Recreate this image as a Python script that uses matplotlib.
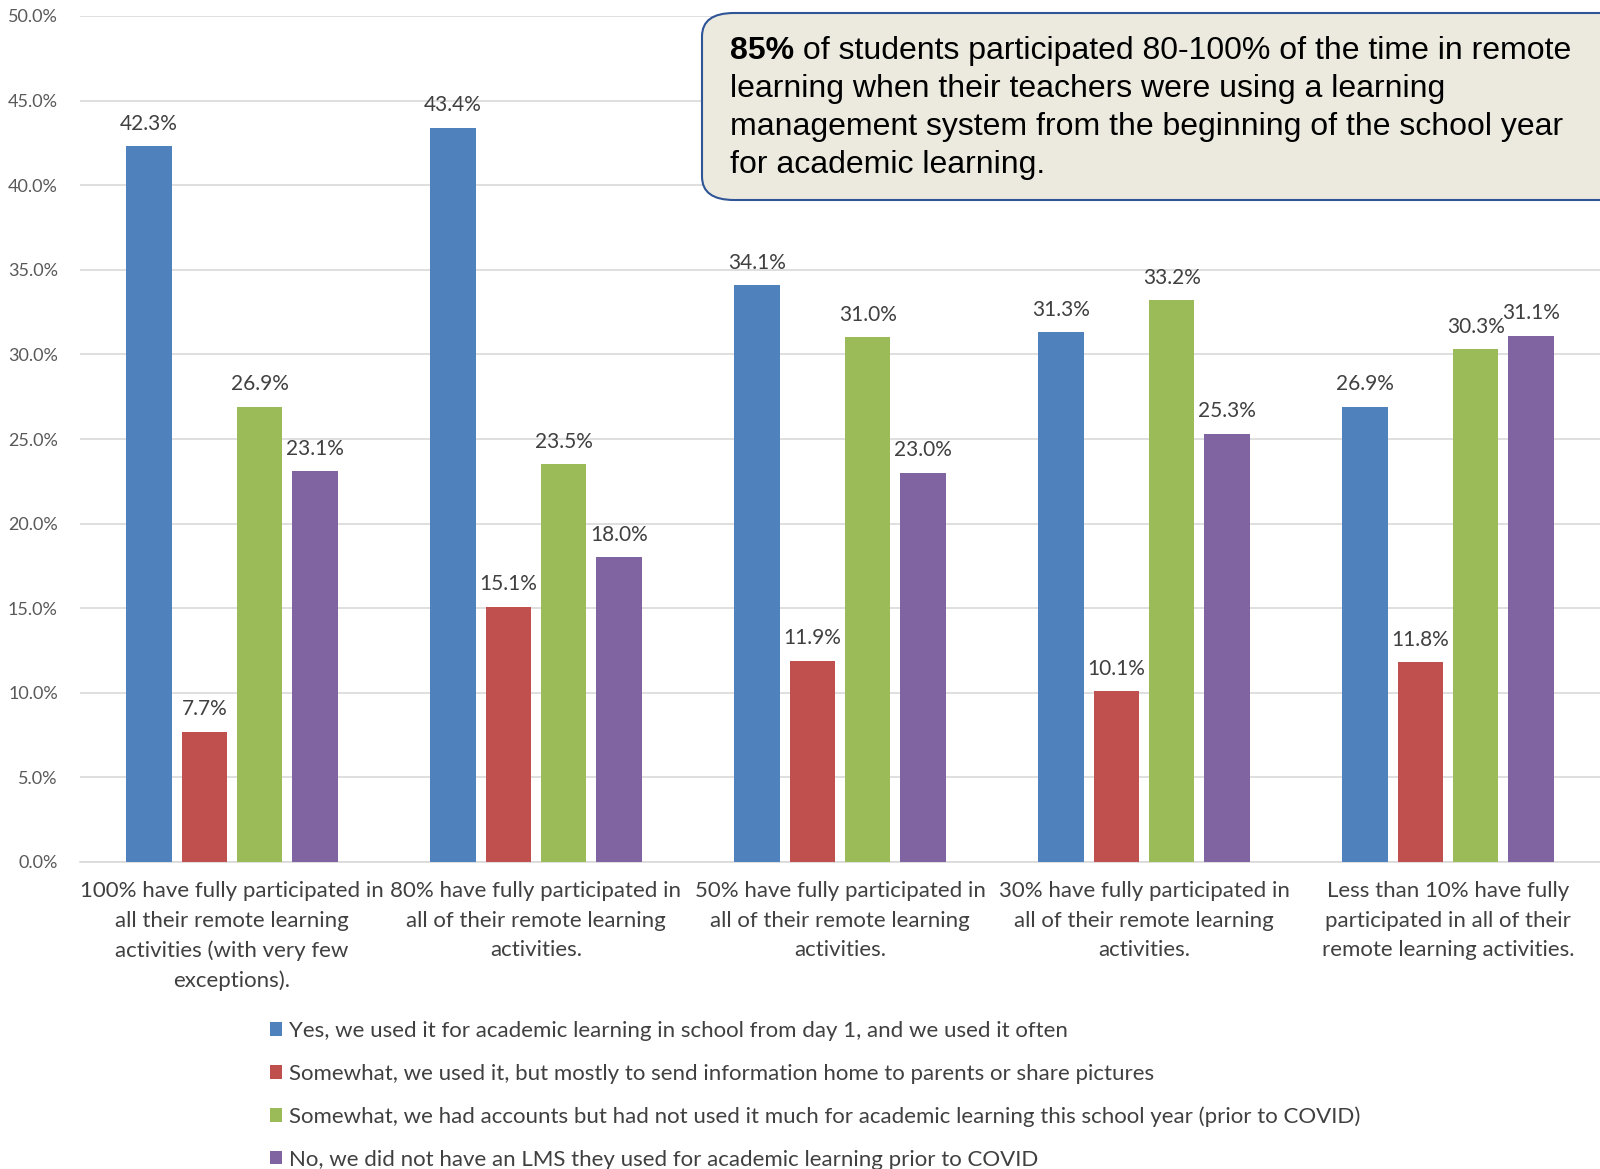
import matplotlib
matplotlib.use("Agg")
import matplotlib.pyplot as plt
from matplotlib.patches import FancyBboxPatch, Patch
import numpy as np

categories = [
    "100% have fully participated in\nall their remote learning\nactivities (with very few\nexceptions).",
    "80% have fully participated in\nall of their remote learning\nactivities.",
    "50% have fully participated in\nall of their remote learning\nactivities.",
    "30% have fully participated in\nall of their remote learning\nactivities.",
    "Less than 10% have fully\nparticipated in all of their\nremote learning activities.",
]
series_names = [
    "Yes, we used it for academic learning in school from day 1, and we used it often",
    "Somewhat, we used it, but mostly to send information home to parents or share pictures",
    "Somewhat, we had accounts but had not used it much for academic learning this school year (prior to COVID)",
    "No, we did not have an LMS they used for academic learning prior to COVID",
]
yes_often = [42.3, 43.4, 34.1, 31.3, 26.9]
somewhat_info = [7.7, 15.1, 11.9, 10.1, 11.8]
somewhat_accounts = [26.9, 23.5, 31.0, 33.2, 30.3]
no_lms = [23.1, 18.0, 23.0, 25.3, 31.1]
series = [yes_often, somewhat_info, somewhat_accounts, no_lms]
colors = ["#4F81BD", "#C0504D", "#9BBB59", "#8064A2"]
yticks = np.arange(0, 50.1, 5)

W, H = 1600, 1169
fig = plt.figure(figsize=(16, 11.69), dpi=100)
ax = fig.add_axes([80 / W, 1 - 862 / H, 1 - 80 / W, (862 - 16) / H])

font = "Lato"
x = np.arange(len(categories))
pitch = 0.182
bw = 0.150
offsets = (np.arange(4) - 1.5) * pitch
for i, (vals, c) in enumerate(zip(series, colors)):
    bars = ax.bar(x + offsets[i], vals, width=bw, color=c, label=series_names[i], zorder=3)
    for b, v in zip(bars, vals):
        ax.annotate(f"{v:.1f}%", (b.get_x() + b.get_width() / 2, v), xytext=(0, 9),
                    textcoords="offset points", ha="center", va="bottom",
                    fontsize=15, color="#404040", family=font)

ax.set_xlim(-0.5, 4.5)
ax.set_ylim(0, 50)
ax.set_yticks(yticks)
ax.set_yticklabels([f"{t:.1f}%" for t in yticks], fontsize=13, color="#595959", family=font)
ax.grid(axis="y", color="#D9D9D9", linewidth=1.2, zorder=0)
ax.set_xticks(x)
ax.set_xticklabels(categories, fontsize=16, color="#404040", family=font, linespacing=1.57)
ax.tick_params(axis="both", length=0)
ax.tick_params(axis="y", pad=16)
ax.tick_params(axis="x", pad=14)
for s in ["top", "right", "left"]:
    ax.spines[s].set_visible(False)
ax.spines["bottom"].set_color("#D9D9D9")
ax.spines["bottom"].set_linewidth(1.2)

handles = [Patch(facecolor=c) for c in colors]
fig.legend(handles, series_names, loc="upper left", bbox_to_anchor=(270 / W, 1 - 1021 / H),
           frameon=False, prop={"family": font, "size": 16}, labelcolor="#404040",
           handlelength=0.55, handleheight=0.55, handletextpad=0.3, labelspacing=1.02,
           borderpad=0, borderaxespad=0)

# annotation box
bx0, by0, bx1, by1 = 702, 13, 1640, 200
box = FancyBboxPatch((bx0 / W, 1 - by1 / H), (bx1 - bx0) / W, (by1 - by0) / H,
                     boxstyle="round,pad=0,rounding_size=0.02", transform=fig.transFigure,
                     facecolor="#ECEADF", edgecolor="#2F5597", linewidth=1.5, zorder=10,
                     clip_on=False)
fig.patches.append(box)

tx = 730 / W
lines_y = [51, 89, 127, 165]
afont = "Liberation Sans"
fs = 23
t0 = fig.text(tx, 1 - lines_y[0] / H, "85%", fontsize=fs, fontweight="bold", family=afont,
              va="center", ha="left", zorder=11)
r = fig.canvas.get_renderer()
ext = t0.get_window_extent(renderer=r)
fig.text(ext.x1 / W, 1 - lines_y[0] / H, " of students participated 80-100% of the time in remote",
         fontsize=fs, family=afont, va="center", ha="left", zorder=11)
rest = ["learning when their teachers were using a learning",
        "management system from the beginning of the school year",
        "for academic learning."]
for ly, s in zip(lines_y[1:], rest):
    fig.text(tx, 1 - ly / H, s, fontsize=fs, family=afont, va="center", ha="left", zorder=11)

fig.savefig("out.png", dpi=100)
